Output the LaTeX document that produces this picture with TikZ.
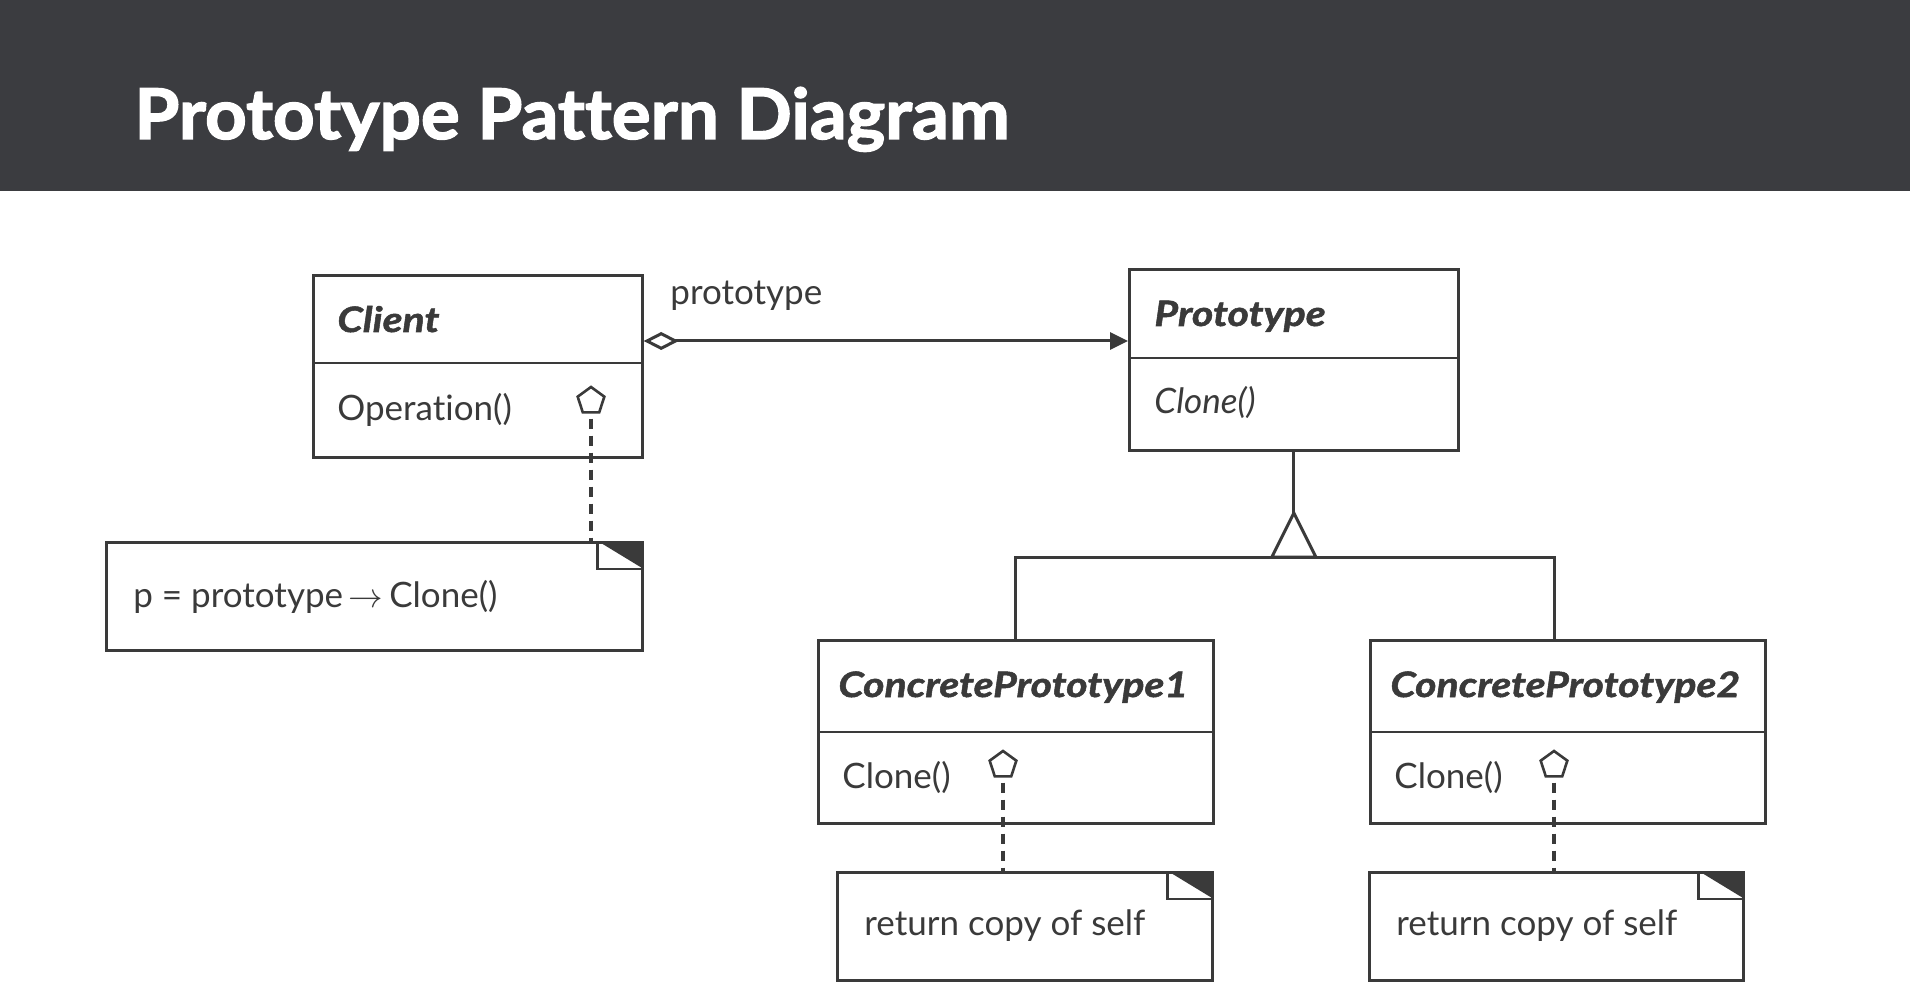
\documentclass[tikz,border=0pt]{standalone}
\usepackage{fontspec}
\setmainfont{Lato}[Ligatures=CommonOff]
\newfontfamily\titlefont{Lato}[Ligatures=CommonOff, BoldFeatures={FakeBold=2, FakeStretch=1.04}]
\newfontfamily\namefont{Lato}[Ligatures=CommonOff, BoldItalicFeatures={FakeBold=1.5, FakeStretch=1.17}]
\usetikzlibrary{arrows.meta,shapes.geometric,calc}
\definecolor{hdr}{HTML}{3B3C40}
\definecolor{ink}{HTML}{3A3A3A}
\begin{document}
\begin{tikzpicture}[x=0.5pt,y=-0.5pt,
  box/.style={draw=ink, line width=1.35pt, anchor=north west, inner sep=0pt},
  txt/.style={anchor=base west, inner sep=0pt, text=ink, font=\fontsize{17.5}{20}\selectfont},
  ttl/.style={anchor=base west, inner sep=0pt, text=ink, font=\namefont\fontsize{17.5}{20}\selectfont\bfseries\itshape},
  itl/.style={anchor=base west, inner sep=0pt, text=ink, font=\fontsize{17.5}{20}\selectfont\itshape},
  pent/.style={draw=ink, regular polygon, regular polygon sides=5, minimum size=14pt, inner sep=0pt, line width=1.3pt, fill=white},
  dsh/.style={draw=ink, line width=2pt, dash pattern=on 5pt off 3.5pt},
  conn/.style={draw=ink, line width=1.5pt},
  sep/.style={draw=ink, line width=1.35pt}]
\useasboundingbox (0,0) rectangle (1910,1005);
\fill[white] (0,0) rectangle (1910,1005);
\fill[hdr] (0,0) rectangle (1910,191);
\node[anchor=base west, inner sep=0pt, text=white, font=\titlefont\fontsize{35}{40}\selectfont\bfseries] (title) at (134,139) {Prototype Pattern Diagram};

% class boxes
\node[box, minimum width=164.5pt, minimum height=91pt] (client) at (312,274) {};
\draw[sep] ($(client.north west)+(0,89)$) -- ($(client.north east)+(0,89)$);
\node[ttl] (clientname) at (337,332) {Client};
\node[txt] (clientop) at (337,420) {Operation()};

\node[box, minimum width=164.5pt, minimum height=90.5pt] (proto) at (1128,268) {};
\draw[sep] ($(proto.north west)+(0,90)$) -- ($(proto.north east)+(0,90)$);
\node[ttl] (protoname) at (1154,326) {Prototype};
\node[itl] (protoop) at (1154,414) {Clone()};

\node[box, minimum width=197.5pt, minimum height=91.5pt] (cp1) at (817,639) {};
\draw[sep] ($(cp1.north west)+(0,93)$) -- ($(cp1.north east)+(0,93)$);
\node[ttl] (cp1name) at (838,697) {ConcretePrototype1};
\node[txt] (cp1op) at (842,788) {Clone()};

\node[box, minimum width=197.5pt, minimum height=91.5pt] (cp2) at (1369,639) {};
\draw[sep] ($(cp2.north west)+(0,93)$) -- ($(cp2.north east)+(0,93)$);
\node[ttl] (cp2name) at (1390,697) {ConcretePrototype2};
\node[txt] (cp2op) at (1394,788) {Clone()};

% notes
\node[box, minimum width=268pt, minimum height=54pt] (note1) at (105,541) {};
\node[txt] (note1t) at (133,607) {p = prototype\,$\rightarrow$\,Clone()};
\node[box, minimum width=187.5pt, minimum height=54pt] (note2) at (836,871) {};
\node[txt] (note2t) at (864,935) {return copy of self};
\node[box, minimum width=187pt, minimum height=54pt] (note3) at (1368,871) {};
\node[txt] (note3t) at (1396,935) {return copy of self};
\foreach \n in {note1,note2,note3}{
  \fill[ink] (\n.north east) -- ++(-46,0) -- ++(46,28) -- cycle;
  \draw[sep] ($(\n.north east)+(-46,0)$) -- ++(0,28) -- ++(46,0);
}

% pentagons and dashed note links
\node[pent] (p1) at (591,401) {};
\node[pent] (p2) at (1003,765) {};
\node[pent] (p3) at (1554,765) {};
\draw[dsh] ([yshift=-2.5pt]p1.south) -- (p1.south |- note1.north);
\draw[dsh] ([yshift=-2.5pt]p2.south) -- (p2.south |- note2.north);
\draw[dsh] ([yshift=-2.5pt]p3.south) -- (p3.south |- note3.north);

% aggregation
\coordinate (ay) at (0,341);
\node[txt] (agglabel) at (670,305) {prototype};
\draw[conn, {Diamond[open,length=17.5pt,width=9pt,line width=1.5pt]}-{Triangle[length=9pt,width=8.5pt]}] (client.east |- ay) -- (proto.west |- ay);

% inheritance
\coordinate (apexy) at (0,513);
\coordinate (hb) at (0,557);
\coordinate (cp2x) at (1554,0);
\draw[conn] (proto.south) -- (proto.south |- apexy);
\draw[conn] (cp1.north) -- (cp1.north |- hb) -- (cp2x |- hb) -- (cp2x |- cp2.north);
\draw[conn, fill=white, line join=miter] (proto.south |- apexy) -- ++(-22,44) -- ++(44,0) -- cycle;
\end{tikzpicture}
\end{document}
